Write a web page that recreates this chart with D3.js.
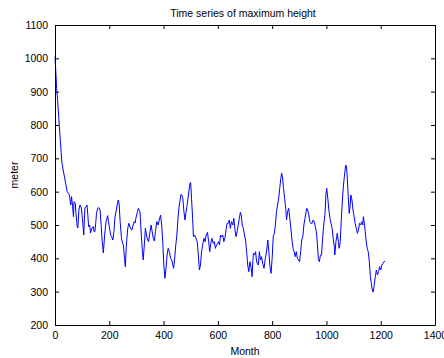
<!DOCTYPE html>
<html><head><meta charset="utf-8">
<script src="https://cdn.jsdelivr.net/npm/d3@7"></script>
<style>body{margin:0;background:#fff}svg{display:block}text{font-family:"Liberation Sans",Arial,sans-serif;fill:#000}</style>
</head><body><div id="c"></div>
<script>
const months = [0,3,6,10,14,16,20,25,30,37,45,50,53,58,61,65,68,70,75,77,82,84,88,92,97,101,106,110,114,118,121,124,128,131,136,141,144,147,150,153,157,162,166,170,174,178,183,188,194,197,200,205,209,213,217,221,225,229,233,236,240,245,249,252,256,259,263,268,272,276,280,283,288,292,295,298,301,304,307,313,318,322,325,329,333,337,341,345,349,354,358,362,366,370,375,380,384,389,393,397,401,405,409,413,417,421,426,430,434,437,441,445,449,453,457,461,464,467,471,475,479,483,486,490,494,497,500,503,507,510,515,519,524,528,532,536,540,545,549,553,557,562,566,570,574,578,583,587,591,595,599,602,606,610,614,618,622,626,630,634,638,642,646,650,655,659,663,667,671,675,679,683,686,690,694,698,702,706,710,714,718,722,726,729,731,735,739,742,745,749,753,757,761,765,770,775,780,784,788,792,796,800,804,808,812,816,820,824,828,832,835,838,842,846,850,853,857,861,865,869,873,877,881,885,889,893,897,901,905,909,913,917,921,925,928,931,935,939,943,947,951,955,959,963,967,970,974,978,982,986,990,995,998,1001,1005,1009,1013,1017,1021,1025,1029,1031,1035,1040,1044,1047,1051,1055,1060,1064,1068,1071,1074,1077,1080,1084,1087,1090,1094,1098,1102,1106,1110,1114,1118,1122,1126,1130,1134,1136,1140,1143,1146,1150,1154,1158,1162,1166,1170,1173,1176,1180,1184,1188,1192,1196,1200,1204,1208,1212,1216];
const heights = [1005,960,910,870,820,795,750,690,665,635,600,595,590,560,585,555,525,570,565,535,495,491,545,560,551,520,470,550,555,560,530,495,500,476,490,495,480,480,505,535,550,552,545,500,450,416,470,510,528,510,495,470,465,455,480,525,540,560,575,565,510,460,445,440,400,375,440,490,505,495,488,485,500,510,506,520,530,540,550,540,470,420,395,440,490,470,455,450,475,500,480,460,452,480,510,500,515,530,500,450,380,340,370,410,430,420,400,395,380,370,400,440,470,520,555,575,592,590,580,540,515,540,555,580,605,625,627,580,520,465,470,460,450,410,365,380,420,445,460,450,470,478,450,420,445,460,445,450,430,440,445,450,440,470,465,470,450,460,485,505,505,515,490,510,500,520,485,465,480,500,520,538,530,500,490,470,455,420,380,360,390,375,345,390,415,410,420,395,385,380,420,395,405,385,370,400,425,455,420,375,355,400,465,475,500,540,560,580,610,640,655,645,610,580,550,515,540,550,520,490,455,430,420,405,420,400,395,390,420,455,465,500,520,540,550,545,530,510,505,505,515,510,495,480,440,400,390,410,410,460,500,535,590,610,580,545,520,505,490,460,435,410,450,475,450,430,450,520,590,630,660,680,675,640,590,535,555,590,575,545,525,505,490,475,485,505,500,510,500,525,505,480,455,430,420,390,345,320,300,300,320,345,365,350,360,375,365,380,385,390,392];
const xTicks = [0,200,400,600,800,1000,1200,1400];
const yTicks = [200,300,400,500,600,700,800,900,1000,1100];
const title = "Time series of maximum height", xLabel = "Month", yLabel = "meter";

const W = 444, H = 358, L = 55, R = 435, T = 25, B = 325;
const svg = d3.select("#c").append("svg").attr("width", W).attr("height", H);
const x = d3.scaleLinear().domain([0, 1400]).range([L, R]);
const y = d3.scaleLinear().domain([200, 1100]).range([B, T]);
const fs = "10.5px";
const fmt = d3.format("d");

svg.append("path").datum(months.map((m, i) => [m, heights[i]]))
  .attr("fill", "none").attr("stroke", "#0000ff").attr("stroke-width", 1)
  .attr("d", d3.line().x(d => x(d[0])).y(d => y(d[1])));

function style(g, hide) {
  g.select(".domain").attr("stroke", "#000");
  g.selectAll(".tick line").attr("stroke", "#000");
  g.selectAll("text").style("font-size", fs).attr("fill", "#000");
  if (hide) g.selectAll("text").remove();
}
svg.append("g").attr("transform", `translate(0,${B})`)
  .call(d3.axisBottom(x).tickValues(xTicks).tickFormat(fmt).tickSizeInner(-4).tickSizeOuter(0).tickPadding(7))
  .call(g => style(g, false));
svg.append("g").attr("transform", `translate(0,${T})`)
  .call(d3.axisTop(x).tickValues(xTicks).tickSizeInner(-4).tickSizeOuter(0))
  .call(g => style(g, true));
svg.append("g").attr("transform", `translate(${L},0)`)
  .call(d3.axisLeft(y).tickValues(yTicks).tickFormat(fmt).tickSizeInner(-4).tickSizeOuter(0).tickPadding(7))
  .call(g => style(g, false));
svg.append("g").attr("transform", `translate(${R},0)`)
  .call(d3.axisRight(y).tickValues(yTicks).tickSizeInner(-4).tickSizeOuter(0))
  .call(g => style(g, true));

svg.append("text").attr("x", 243).attr("y", 17).attr("text-anchor", "middle").style("font-size", fs).text(title);
svg.append("text").attr("x", 245).attr("y", 355).attr("text-anchor", "middle").style("font-size", fs).text(xLabel);
svg.append("text").attr("transform", "translate(18,175) rotate(-90)").attr("text-anchor", "middle").style("font-size", fs).text(yLabel);
</script></body></html>
